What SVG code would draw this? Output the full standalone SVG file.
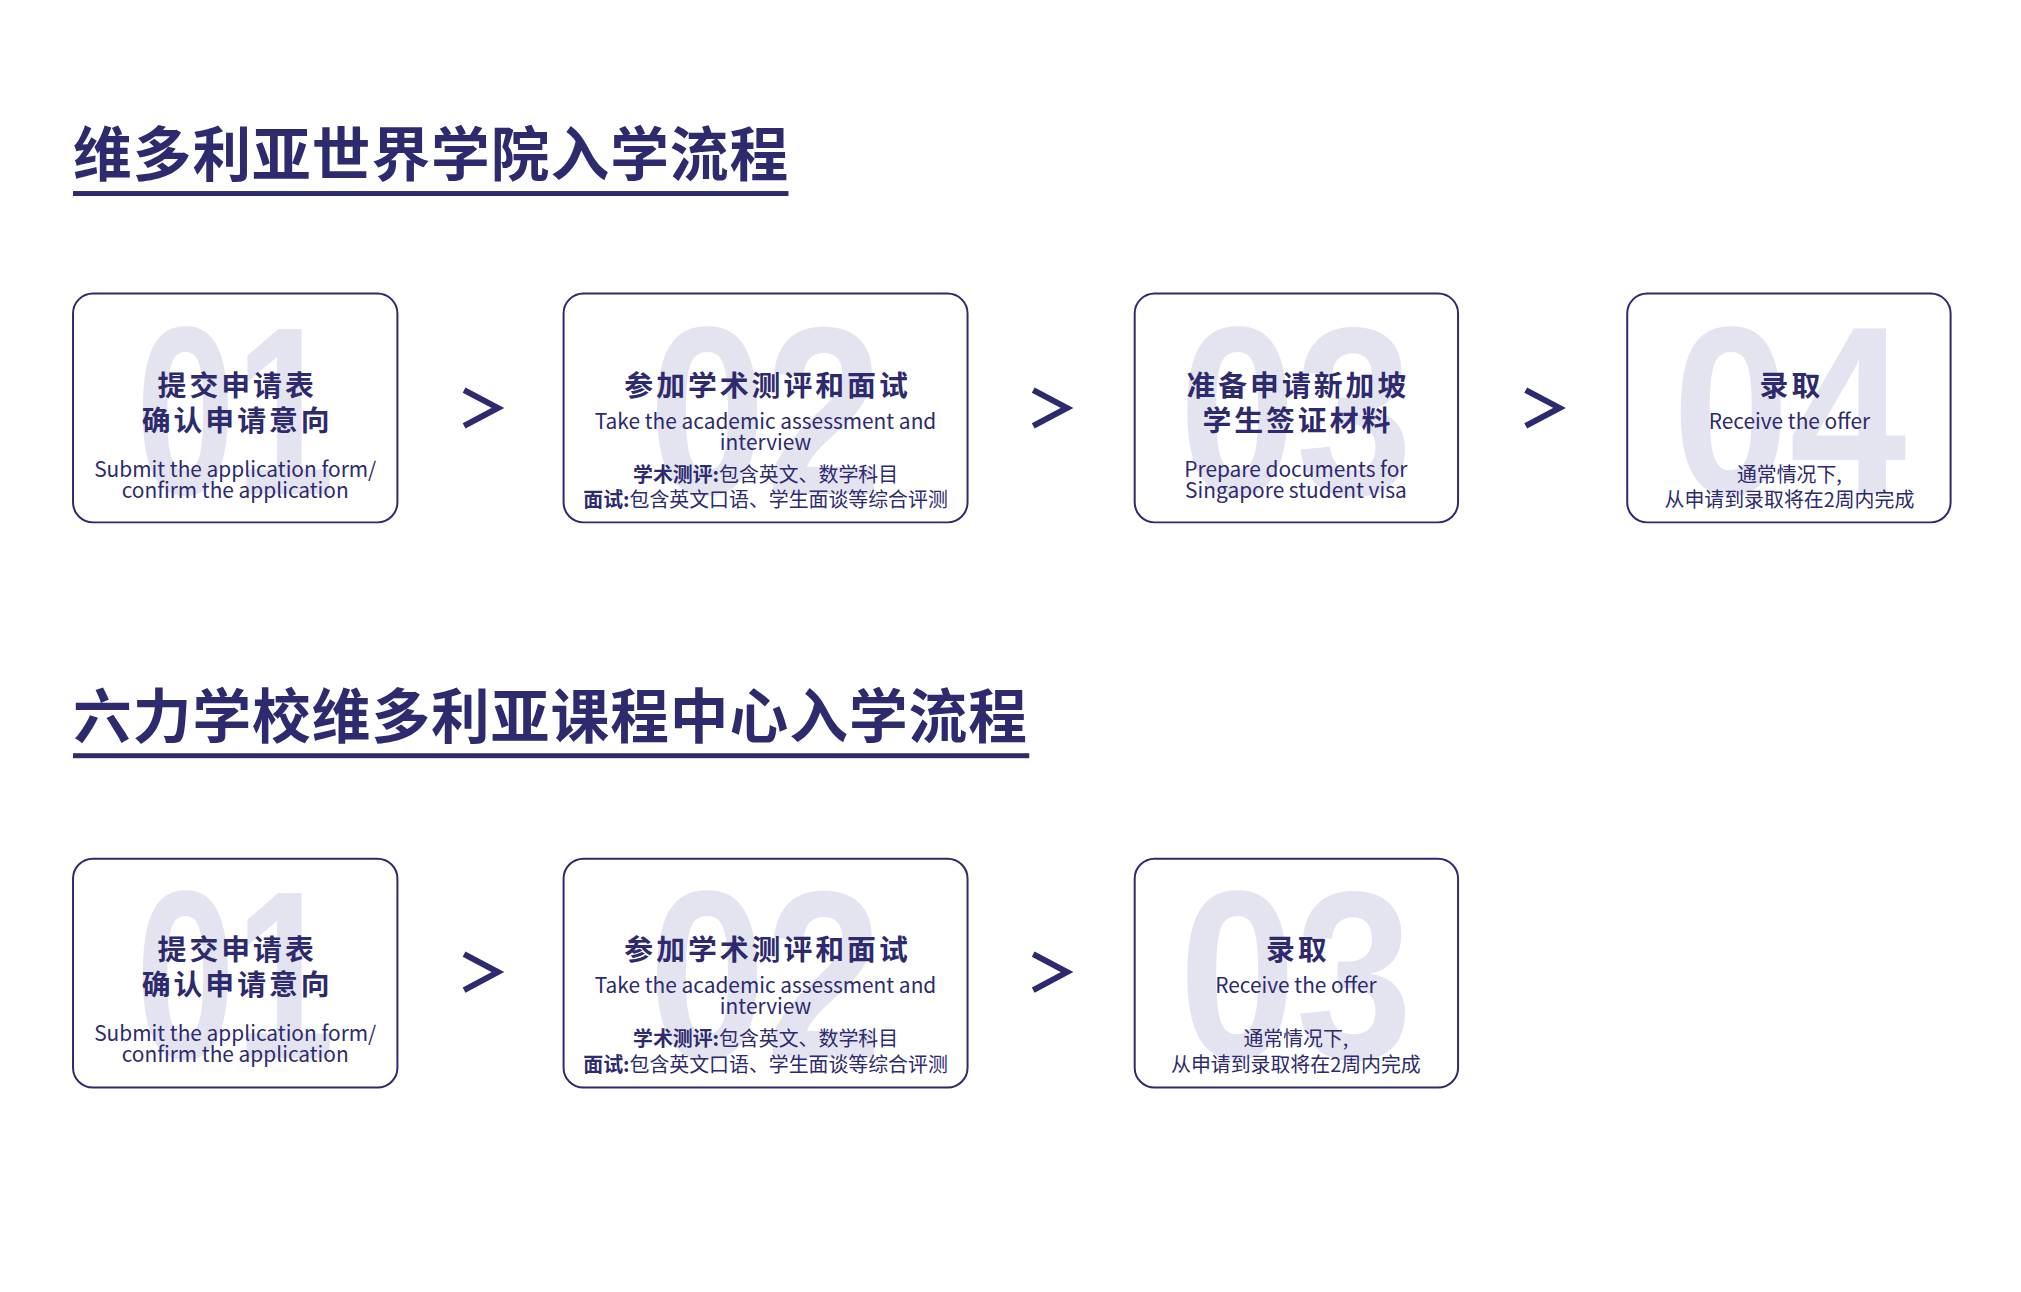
<svg xmlns="http://www.w3.org/2000/svg" width="2021" height="1292" viewBox="0 0 2021 1292">
<style>
.t{font-family:"Noto Sans CJK SC","Noto Sans",sans-serif;fill:#2d2a6e;text-anchor:middle}
.h{font-weight:700;font-size:59px;text-anchor:start;letter-spacing:1px}
.b{fill:#fff;stroke:#2d2a6e;stroke-width:2}
.n{font-family:"Liberation Sans",sans-serif;font-weight:700;font-size:240px;fill:#e4e4f0;text-anchor:middle}
.ti{font-weight:700;font-size:29px;letter-spacing:3px}
.en{font-size:21px}
.cn{font-size:20px}
.ar{fill:none;stroke:#2d2a6e;stroke-width:6}
</style>
<rect width="2021" height="1292" fill="#fff"/>
<g transform="translate(0.4,0) scale(0.995)">
<text class="t h" x="73" y="177">维多利亚世界学院入学流程</text>
<rect x="73" y="192" width="719" height="5" fill="#2d2a6e"/>
<text class="t h" x="73" y="742">六力学校维多利亚课程中心入学流程</text>
<rect x="73" y="757" width="961" height="5" fill="#2d2a6e"/>
<g id="connectors">
<path class="ar" d="M466 392 L500 410 L466 428"/>
<path class="ar" d="M1038 392 L1072 410 L1038 428"/>
<path class="ar" d="M1533 392 L1567 410 L1533 428"/>
<path class="ar" d="M466 959 L500 977 L466 995"/>
<path class="ar" d="M1038 959 L1072 977 L1038 995"/>
</g>
<g id="a1"><rect class="b" x="73" y="295" width="326" height="230" rx="20"/>
<text class="n" x="236" y="496" textLength="200" lengthAdjust="spacingAndGlyphs">01</text>
<text class="t ti" x="238" y="398">提交申请表</text><text class="t ti" x="238" y="433">确认申请意向</text>
<text class="t en" x="236" y="479">Submit the application form/</text><text class="t en" x="236" y="500">confirm the application</text></g>
<g id="a2"><rect class="b" x="566" y="295" width="406" height="230" rx="20"/>
<text class="n" x="769" y="496" textLength="235" lengthAdjust="spacingAndGlyphs">02</text>
<text class="t ti" x="771" y="398">参加学术测评和面试</text>
<text class="t en" x="769" y="431">Take the academic assessment and</text><text class="t en" x="769" y="452">interview</text>
<text class="t cn" x="769" y="484"><tspan font-weight="700">学术测评:</tspan>包含英文、数学科目</text>
<text class="t cn" x="769" y="510"><tspan font-weight="700">面试:</tspan>包含英文口语、学生面谈等综合评测</text></g>
<g id="a3"><rect class="b" x="1140" y="295" width="325" height="230" rx="20"/>
<text class="n" x="1302" y="496" textLength="235" lengthAdjust="spacingAndGlyphs">03</text>
<text class="t ti" x="1304" y="398">准备申请新加坡</text><text class="t ti" x="1304" y="433">学生签证材料</text>
<text class="t en" x="1302" y="479">Prepare documents for</text><text class="t en" x="1302" y="500">Singapore student visa</text></g>
<g id="a4"><rect class="b" x="1635" y="295" width="325" height="230" rx="20"/>
<text class="n" x="1798" y="496" textLength="235" lengthAdjust="spacingAndGlyphs">04</text>
<text class="t ti" x="1800" y="398">录取</text>
<text class="t en" x="1798" y="431">Receive the offer</text>
<text class="t cn" x="1798" y="484">通常情况下,</text><text class="t cn" x="1798" y="510">从申请到录取将在2周内完成</text></g>
<g id="b1"><rect class="b" x="73" y="863" width="326" height="230" rx="20"/>
<text class="n" x="236" y="1063" textLength="200" lengthAdjust="spacingAndGlyphs">01</text>
<text class="t ti" x="238" y="965">提交申请表</text><text class="t ti" x="238" y="1000">确认申请意向</text>
<text class="t en" x="236" y="1046">Submit the application form/</text><text class="t en" x="236" y="1067">confirm the application</text></g>
<g id="b2"><rect class="b" x="566" y="863" width="406" height="230" rx="20"/>
<text class="n" x="769" y="1063" textLength="235" lengthAdjust="spacingAndGlyphs">02</text>
<text class="t ti" x="771" y="965">参加学术测评和面试</text>
<text class="t en" x="769" y="998">Take the academic assessment and</text><text class="t en" x="769" y="1019">interview</text>
<text class="t cn" x="769" y="1051"><tspan font-weight="700">学术测评:</tspan>包含英文、数学科目</text>
<text class="t cn" x="769" y="1077"><tspan font-weight="700">面试:</tspan>包含英文口语、学生面谈等综合评测</text></g>
<g id="b3"><rect class="b" x="1140" y="863" width="325" height="230" rx="20"/>
<text class="n" x="1302" y="1063" textLength="235" lengthAdjust="spacingAndGlyphs">03</text>
<text class="t ti" x="1304" y="965">录取</text>
<text class="t en" x="1302" y="998">Receive the offer</text>
<text class="t cn" x="1302" y="1051">通常情况下,</text><text class="t cn" x="1302" y="1077">从申请到录取将在2周内完成</text></g>
</g>
</svg>
